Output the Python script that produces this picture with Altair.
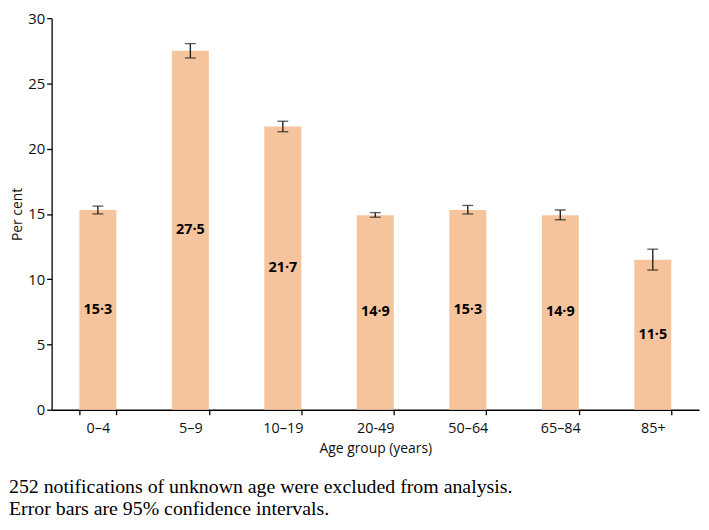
import altair as alt
import pandas as pd

groups = ["0–4", "5–9", "10–19", "20-49", "50–64", "65–84", "85+"]
values = [15.3, 27.5, 21.7, 14.9, 15.3, 14.9, 11.5]
lower = [15.0, 26.95, 21.3, 14.75, 15.0, 14.55, 10.7]
upper = [15.6, 28.05, 22.1, 15.1, 15.65, 15.3, 12.3]
labels = ["15·3", "27·5", "21·7", "14·9", "15·3", "14·9", "11·5"]
notes = ["252 notifications of unknown age were excluded from analysis.",
         "Error bars are 95% confidence intervals."]

df = pd.DataFrame({"group": groups, "value": values, "lo": lower, "hi": upper,
                   "label": labels, "mid": [v / 2 for v in values]})
notes_df = pd.DataFrame({"note": ["\n".join(notes)]})

FONT = "Open Sans"
x = alt.X("group:N", sort=groups, title="Age group (years)",
          scale=alt.Scale(paddingInner=0.6, paddingOuter=0.3),
          axis=alt.Axis(labelAngle=0, tickBand="extent", labelFontSize=14.5,
                        titleFontSize=14, titleFontWeight="normal", labelColor="#111",
                        titleColor="#111", domainColor="#000", tickColor="#000",
                        labelPadding=7, titlePadding=7, labelFont=FONT, titleFont=FONT))
yscale = alt.Scale(domain=[0, 30])
yaxis = alt.Axis(values=[0, 5, 10, 15, 20, 25, 30], grid=False, labelFontSize=15,
                 titleFontSize=14, titleFontWeight="normal", title="Per cent",
                 labelColor="#111", titleColor="#111", domainColor="#000",
                 tickColor="#000", labelFont=FONT, titleFont=FONT, titlePadding=3)

base = alt.Chart(df)
bars = base.mark_bar(color="#F6C49C").encode(x=x, y=alt.Y("value:Q", scale=yscale, axis=yaxis))
rules = base.mark_rule(color="#222", strokeWidth=1.4).encode(
    x=alt.X("group:N", sort=groups), y="lo:Q", y2="hi:Q")
cap_lo = base.mark_tick(color="#222", size=11, thickness=1.4, orient="horizontal").encode(
    x=alt.X("group:N", sort=groups), y="lo:Q")
cap_hi = base.mark_tick(color="#222", size=11, thickness=1.4, orient="horizontal").encode(
    x=alt.X("group:N", sort=groups), y="hi:Q")
text = base.mark_text(fontWeight="bold", fontSize=14.5, font=FONT, color="#000").encode(
    x=alt.X("group:N", sort=groups), y="mid:Q", text="label:N")
footer = alt.Chart(notes_df).mark_text(font="Liberation Serif", fontSize=20, align="left",
                                       baseline="middle", color="#000", lineBreak="\n",
                                       lineHeight=22).encode(
    x=alt.value(-43), y=alt.value(473), text="note:N")

chart = alt.layer(bars, rules, cap_lo, cap_hi, text, footer).properties(
    width=653, height=395,
    autosize=alt.AutoSizeParams(type="none"),
    padding={"left": 44, "top": 8, "right": 2, "bottom": 110},
).configure_view(stroke=None).configure_axis(domainWidth=1.3, tickSize=5, tickWidth=1.3)

chart.save("out.html", embed_options={"renderer": "svg", "actions": False})
